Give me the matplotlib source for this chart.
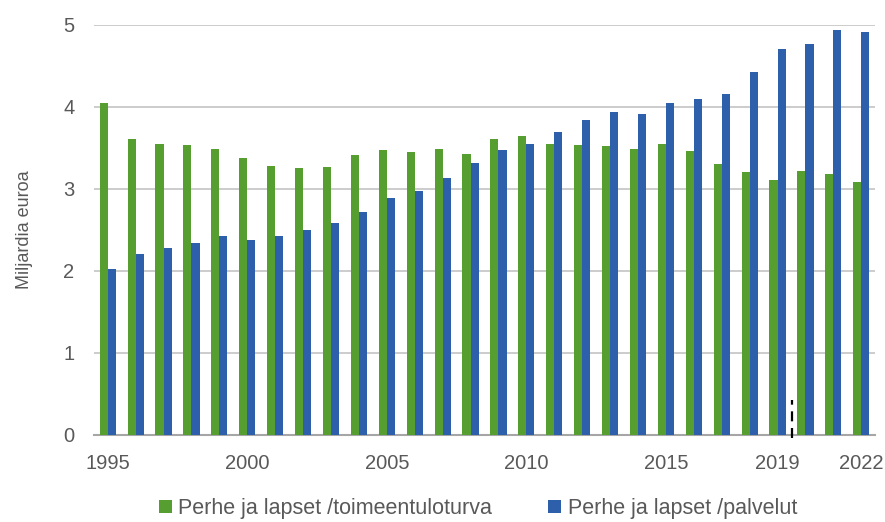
import numpy as np
from matplotlib import pyplot as plt

years = list(range(1995, 2023))
toimeentulo = [4.04, 3.61, 3.55, 3.53, 3.49, 3.38, 3.28, 3.25, 3.27, 3.41,
               3.47, 3.45, 3.48, 3.42, 3.61, 3.64, 3.55, 3.53, 3.52, 3.49,
               3.54, 3.46, 3.30, 3.21, 3.11, 3.22, 3.18, 3.08]
palvelut = [2.02, 2.21, 2.28, 2.34, 2.42, 2.38, 2.42, 2.50, 2.58, 2.72,
            2.89, 2.97, 3.13, 3.32, 3.47, 3.55, 3.69, 3.84, 3.94, 3.91,
            4.04, 4.10, 4.15, 4.42, 4.70, 4.77, 4.93, 4.91]
tick_years = [1995, 2000, 2005, 2010, 2015, 2019, 2022]

green = "#559e2f"
blue = "#2e5faa"
gray = "#595959"

plt.rcParams['font.family'] = ['Liberation Sans', 'DejaVu Sans']

fig = plt.figure(figsize=(8.85, 5.22), dpi=100)
ax = fig.add_axes([0.106, 0.1667, 0.883, 0.786])

x = np.arange(len(years))
w = 0.29
ax.bar(x - w/2, toimeentulo, w, color=green, label="Perhe ja lapset /toimeentuloturva", zorder=3)
ax.bar(x + w/2, palvelut, w, color=blue, label="Perhe ja lapset /palvelut", zorder=3)

# break marker between 2019 and 2020
ax.plot([24.5, 24.5], [-0.04, 0.43], color="black", ls=(0, (4.5, 3)), lw=1.6, clip_on=False, zorder=4)

ax.set_xlim(-0.5, len(years) - 0.5)
ax.set_ylim(0, 5)
ax.set_yticks(range(6))
ax.set_xticks([years.index(y) for y in tick_years])
ax.set_xticklabels([str(y) for y in tick_years])
ax.tick_params(length=0, labelsize=14.5, colors=gray)
ax.tick_params(axis='x', pad=14)
ax.tick_params(axis='y', pad=14)
ax.grid(axis='y', color="#c4c4c4", lw=1.2, zorder=0)
for s in ["top", "right", "left"]:
    ax.spines[s].set_visible(False)
ax.spines["bottom"].set_color("#a6a6a6")
ax.spines["bottom"].set_linewidth(1.5)

ax.set_ylabel("Miljardia euroa", fontsize=13, color=gray, labelpad=22)

leg = fig.legend(loc="center", bbox_to_anchor=(0.54, 0.026), ncol=2, frameon=False,
                 handlelength=0.6, handleheight=0.6, handletextpad=0.3,
                 columnspacing=2.6, labelcolor=gray,
                 prop={'family': ['Liberation Sans'], 'size': 15.5})

fig.savefig("out.png", dpi=100)
